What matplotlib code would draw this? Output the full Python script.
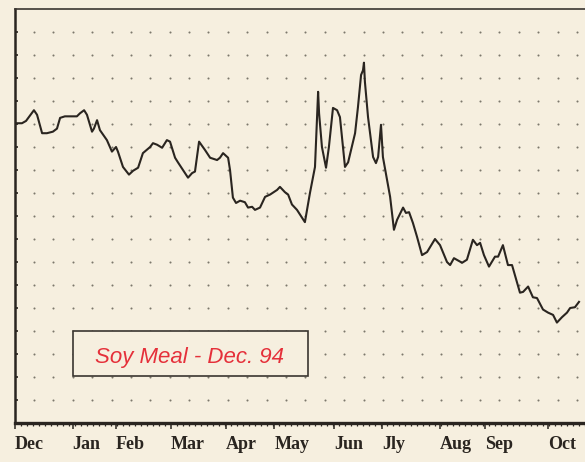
import numpy as np
import matplotlib.pyplot as plt
from matplotlib.patches import Rectangle
from matplotlib.ticker import MultipleLocator

# trading day index (from start of Dec) and settlement price, $/ton
days = [0.8, 2.9, 4.6, 7.9, 9.2, 11.3, 13.3, 15.8, 17.5, 18.8, 20.8, 25.8, 27.1,
        28.8, 30.0, 32.1, 32.9, 34.2, 35.4, 38.3, 40.4, 42.1, 42.9, 45.0, 47.5,
        49.2, 51.3, 53.3, 56.3, 57.5, 59.2, 61.3, 63.3, 64.6, 66.7, 67.9, 70.0,
        72.1, 73.8, 75.0, 76.7, 79.2, 81.3, 84.2, 85.4, 86.7, 88.8, 89.6, 90.8,
        92.1, 93.8, 95.8, 97.1, 98.8, 100.0, 102.1, 104.2, 106.3, 109.2, 110.4,
        112.5, 113.8, 115.4, 117.5, 120.8, 122.9, 125.0, 126.3, 126.7, 127.9,
        129.6, 130.8, 132.5, 134.2, 135.4, 137.5, 138.8, 141.7, 142.9, 144.2,
        145.0, 145.4, 145.8, 147.1, 149.2, 150.4, 151.3, 152.5, 153.3, 156.3,
        157.9, 159.2, 161.7, 162.9, 164.2, 165.8, 167.5, 169.6, 171.7, 175.0,
        177.1, 180.0, 181.3, 182.9, 186.3, 188.3, 190.8, 192.5, 193.8, 195.4,
        197.5, 200.0, 201.3, 203.3, 205.4, 207.1, 208.3, 210.4, 211.7, 213.8,
        215.8, 217.5, 220.0, 222.1, 224.2, 225.8, 227.9, 230.0, 231.3, 233.3, 235.0]
price = [189.1, 189.1, 189.4, 190.8, 190.2, 187.8, 187.8, 188.0, 188.4, 189.8,
         190.0, 190.0, 190.4, 190.8, 190.2, 188.0, 188.4, 189.5, 188.2, 186.9,
         185.4, 186.0, 185.4, 183.4, 182.4, 182.9, 183.3, 185.2, 186.0, 186.5,
         186.3, 185.9, 186.9, 186.7, 184.6, 184.0, 183.0, 182.0, 182.6, 182.8,
         186.7, 185.6, 184.6, 184.3, 184.6, 185.2, 184.6, 183.0, 179.4, 178.7,
         179.0, 178.8, 178.1, 178.2, 177.8, 178.1, 179.5, 179.8, 180.4, 180.8,
         180.1, 179.8, 178.5, 177.8, 176.2, 180.0, 183.4, 193.2, 190.4, 186.0,
         183.3, 186.0, 191.1, 190.8, 189.9, 183.4, 184.0, 187.8, 191.2, 195.4,
         196.0, 197.0, 194.5, 189.9, 184.7, 183.9, 184.7, 188.9, 184.7, 179.5,
         175.2, 176.5, 178.1, 177.4, 177.5, 176.1, 174.3, 171.9, 172.3, 174.0,
         173.2, 171.0, 170.6, 171.5, 170.9, 171.3, 173.9, 173.2, 173.5, 171.9,
         170.4, 171.7, 171.7, 173.2, 170.6, 170.6, 169.3, 167.0, 167.1, 167.8,
         166.4, 166.3, 164.8, 164.4, 164.1, 163.1, 163.8, 164.4, 165.0, 165.1, 165.8]

months = ['Dec', 'Jan', 'Feb', 'Mar', 'Apr', 'May', 'Jun', 'Jly', 'Aug', 'Sep', 'Oct']
month_pos = [0, 24, 42, 65, 88, 108, 133, 153, 177, 196, 222]

bg = '#f6efdf'
ink = '#2a2520'

fig = plt.figure(figsize=(5.85, 4.62), dpi=100, facecolor=bg)
ax = fig.add_axes([0.0256, 0.0844, 0.9744, 0.8961], facecolor=bg)
ax.set_xlim(0, 237.5)
ax.set_ylim(150, 204)

# dotted grid
gx = np.arange(7.9, 237, 8.08)
gy = np.arange(153, 203, 3)
XX, YY = np.meshgrid(gx, gy)
ax.scatter(XX.ravel(), YY.ravel(), s=2.2, color='#7c786c', linewidths=0, zorder=1)

ax.plot(days, price, color=ink, lw=1.5, zorder=3)

# label box
ax.add_patch(Rectangle((0.1018, 0.1135), 0.412, 0.1087, transform=ax.transAxes,
                       facecolor=bg, edgecolor='#3a3530', lw=1.2, zorder=4))
ax.text(0.307, 0.158, 'Soy Meal - Dec. 94', transform=ax.transAxes,
        ha='center', va='center', color='#e5303a', fontsize=16,
        style='italic', family='Liberation Sans', zorder=5)

ax.spines['right'].set_visible(False)
ax.spines['top'].set_linewidth(1.2)
ax.spines['top'].set_color('#3a3530')
ax.spines['left'].set_linewidth(1.8)
ax.spines['left'].set_color(ink)
ax.spines['bottom'].set_linewidth(2.4)
ax.spines['bottom'].set_color(ink)

ax.set_yticks(gy)
ax.set_yticklabels([])
ax.tick_params(axis='y', direction='in', length=2.5, width=1.2, color=ink)

ax.set_xticks(month_pos)
ax.set_xticklabels(months, ha='left', family='Liberation Serif',
                   fontweight='bold', fontsize=13, color=ink)
ax.xaxis.set_minor_locator(MultipleLocator(2.5))
ax.tick_params(axis='x', which='major', direction='out', length=4.5, width=1.1,
               color=ink, pad=5)
ax.tick_params(axis='x', which='minor', direction='out', length=2.5, width=0.9,
               color=ink)

fig.savefig('out.png', dpi=100, facecolor=bg)
